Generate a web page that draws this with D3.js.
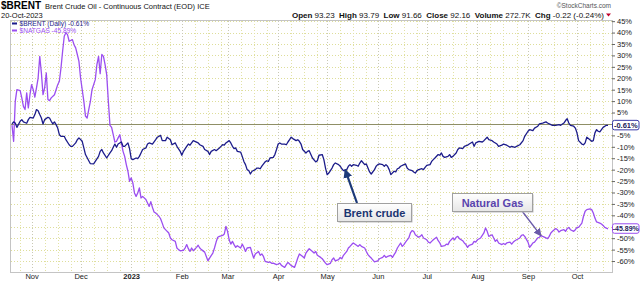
<!DOCTYPE html>
<html><head><meta charset="utf-8">
<script src="https://cdn.jsdelivr.net/npm/d3@7"></script>
<style>
body{margin:0;background:#fff}
svg{display:block}
text{font-family:Arial,"Liberation Sans",sans-serif}
</style>
</head><body>
<svg id="chart" width="640" height="283"></svg>
<script>
// ---------------- DATA ----------------
const brentSeries = [["2022-10-20",0],["2022-10-21",0.9],["2022-10-22",0.4],["2022-10-23",-1.5],["2022-10-25",1.2],["2022-10-26",1.9],["2022-10-27",0.9],["2022-10-29",0.3],["2022-10-30",1.9],["2022-10-31",2.9],["2022-11-02",2.6],["2022-11-03",4.1],["2022-11-04",6.3],["2022-11-05",5.8],["2022-11-06",4.1],["2022-11-07",2.6],["2022-11-08",0],["2022-11-09",1.9],["2022-11-11",2.9],["2022-11-12",2.6],["2022-11-13",1.2],["2022-11-14",0],["2022-11-15",0.9],["2022-11-16",-0.3],["2022-11-17",-1.8],["2022-11-18",-4.7],["2022-11-19",-5.4],["2022-11-21",-5.4],["2022-11-22",-6.9],["2022-11-24",-9.1],["2022-11-25",-9.8],["2022-11-26",-9.8],["2022-11-28",-8.3],["2022-11-29",-6.9],["2022-11-30",-6.1],["2022-12-02",-7.6],["2022-12-03",-10.5],["2022-12-04",-13.4],["2022-12-06",-16.1],["2022-12-07",-17.4],["2022-12-09",-17.5],["2022-12-10",-16.4],["2022-12-12",-14.2],["2022-12-13",-12.0],["2022-12-14",-11.2],["2022-12-15",-12.7],["2022-12-17",-14.9],["2022-12-18",-13.7],["2022-12-19",-12.7],["2022-12-20",-11.7],["2022-12-21",-10.2],["2022-12-22",-8.8],["2022-12-23",-10.2],["2022-12-24",-8.8],["2022-12-26",-7.9],["2022-12-27",-9.8],["2022-12-28",-9.8],["2022-12-30",-8.3],["2022-12-31",-10.8],["2023-01-01",-15.2],["2023-01-02",-15.6],["2023-01-04",-14.9],["2023-01-05",-15.2],["2023-01-06",-14.2],["2023-01-07",-12.7],["2023-01-08",-11.2],["2023-01-10",-10.5],["2023-01-11",-8.8],["2023-01-12",-8.3],["2023-01-14",-8.8],["2023-01-16",-6.9],["2023-01-17",-5.8],["2023-01-19",-5.0],["2023-01-20",-7.3],["2023-01-22",-7.3],["2023-01-23",-5.8],["2023-01-25",-6.9],["2023-01-26",-9.1],["2023-01-28",-8.3],["2023-01-29",-9.8],["2023-01-31",-12.0],["2023-02-01",-13.7],["2023-02-02",-12.0],["2023-02-04",-9.8],["2023-02-05",-8.8],["2023-02-06",-9.3],["2023-02-08",-7.3],["2023-02-09",-7.6],["2023-02-11",-8.3],["2023-02-12",-9.1],["2023-02-14",-9.8],["2023-02-15",-11.2],["2023-02-17",-12.0],["2023-02-18",-13.4],["2023-02-19",-12.0],["2023-02-21",-11.2],["2023-02-22",-11.7],["2023-02-24",-10.5],["2023-02-25",-9.8],["2023-02-26",-9.1],["2023-02-27",-9.3],["2023-02-28",-8.3],["2023-03-02",-7.3],["2023-03-03",-8.3],["2023-03-04",-9.8],["2023-03-05",-10.8],["2023-03-06",-10.5],["2023-03-07",-12.0],["2023-03-09",-12.3],["2023-03-10",-14.2],["2023-03-11",-16.4],["2023-03-12",-17.8],["2023-03-13",-20.0],["2023-03-14",-20.4],["2023-03-15",-21.9],["2023-03-16",-20.7],["2023-03-18",-20.0],["2023-03-19",-19.3],["2023-03-20",-19.3],["2023-03-21",-19.6],["2023-03-22",-18.5],["2023-03-24",-16.6],["2023-03-25",-16.1],["2023-03-26",-16.4],["2023-03-27",-14.9],["2023-03-29",-14.6],["2023-03-30",-13.4],["2023-03-31",-11.2],["2023-04-01",-8.8],["2023-04-02",-8.3],["2023-04-03",-8.8],["2023-04-05",-8.8],["2023-04-06",-9.1],["2023-04-07",-7.9],["2023-04-08",-6.9],["2023-04-09",-5.8],["2023-04-10",-6.4],["2023-04-12",-7.3],["2023-04-13",-6.9],["2023-04-14",-7.6],["2023-04-15",-8.8],["2023-04-16",-11.2],["2023-04-18",-12.7],["2023-04-19",-12.0],["2023-04-20",-11.7],["2023-04-22",-14.9],["2023-04-24",-16.6],["2023-04-25",-16.1],["2023-04-26",-13.7],["2023-04-28",-13.4],["2023-04-29",-15.6],["2023-04-30",-19.3],["2023-05-01",-22.2],["2023-05-02",-21.5],["2023-05-04",-19.3],["2023-05-05",-17.8],["2023-05-06",-17.1],["2023-05-08",-17.8],["2023-05-09",-18.5],["2023-05-10",-19.6],["2023-05-11",-20.4],["2023-05-13",-20.0],["2023-05-14",-18.5],["2023-05-15",-17.8],["2023-05-16",-18.5],["2023-05-17",-17.8],["2023-05-19",-18.1],["2023-05-20",-18.5],["2023-05-21",-17.1],["2023-05-22",-16.1],["2023-05-24",-17.8],["2023-05-25",-17.5],["2023-05-26",-19.3],["2023-05-27",-21.0],["2023-05-28",-21.9],["2023-05-30",-20.0],["2023-05-31",-18.5],["2023-06-01",-17.8],["2023-06-02",-17.5],["2023-06-04",-17.8],["2023-06-05",-18.5],["2023-06-06",-17.8],["2023-06-07",-18.5],["2023-06-08",-20.0],["2023-06-09",-22.2],["2023-06-11",-20.7],["2023-06-12",-21.0],["2023-06-13",-19.6],["2023-06-14",-19.3],["2023-06-15",-18.5],["2023-06-17",-17.8],["2023-06-18",-17.5],["2023-06-19",-19.3],["2023-06-20",-20.0],["2023-06-22",-20.4],["2023-06-23",-21.0],["2023-06-24",-21.5],["2023-06-25",-20.4],["2023-06-26",-20.0],["2023-06-28",-19.6],["2023-06-29",-20.0],["2023-06-30",-19.0],["2023-07-01",-18.1],["2023-07-03",-17.8],["2023-07-04",-16.4],["2023-07-05",-15.6],["2023-07-06",-14.9],["2023-07-08",-13.4],["2023-07-09",-13.7],["2023-07-10",-12.7],["2023-07-11",-14.2],["2023-07-12",-14.6],["2023-07-14",-14.2],["2023-07-15",-13.4],["2023-07-16",-14.6],["2023-07-17",-14.2],["2023-07-19",-12.7],["2023-07-20",-11.2],["2023-07-21",-10.5],["2023-07-23",-10.8],["2023-07-24",-9.8],["2023-07-26",-9.3],["2023-07-27",-8.8],["2023-07-29",-7.9],["2023-07-30",-9.8],["2023-07-31",-8.3],["2023-08-02",-7.6],["2023-08-04",-7.9],["2023-08-05",-7.3],["2023-08-07",-5.8],["2023-08-08",-6.9],["2023-08-10",-7.3],["2023-08-11",-7.9],["2023-08-13",-8.8],["2023-08-14",-9.8],["2023-08-16",-9.3],["2023-08-17",-8.8],["2023-08-19",-9.3],["2023-08-21",-10.2],["2023-08-22",-9.8],["2023-08-24",-10.2],["2023-08-25",-9.8],["2023-08-27",-9.1],["2023-08-29",-7.3],["2023-08-30",-5.4],["2023-09-01",-3.2],["2023-09-02",-2.5],["2023-09-04",-2.9],["2023-09-05",-1.8],["2023-09-07",-1.0],["2023-09-08",0],["2023-09-10",0.4],["2023-09-12",0.9],["2023-09-13",0.4],["2023-09-15",-0.3],["2023-09-16",-0.6],["2023-09-18",-0.6],["2023-09-20",-0.3],["2023-09-21",-0.6],["2023-09-23",0.4],["2023-09-24",1.5],["2023-09-25",2.3],["2023-09-26",0.4],["2023-09-27",-0.6],["2023-09-29",-1.0],["2023-09-30",-1.8],["2023-10-01",-3.9],["2023-10-02",-7.3],["2023-10-04",-8.8],["2023-10-05",-9.1],["2023-10-06",-8.3],["2023-10-07",-5.8],["2023-10-08",-6.4],["2023-10-10",-7.6],["2023-10-11",-7.3],["2023-10-12",-3.9],["2023-10-13",-2.5],["2023-10-14",-3.2],["2023-10-15",-3.5],["2023-10-16",-2.5],["2023-10-17",-1.5],["2023-10-19",-0.6],["2023-10-20",-0.61]];

const natgasSeries = [["2022-10-20",-0.5],["2022-10-21",-7.6],["2022-10-22",9.9],["2022-10-23",15.0],["2022-10-25",14.6],["2022-10-26",11.4],["2022-10-27",7.7],["2022-10-28",6.3],["2022-10-29",13.6],["2022-10-30",7.0],["2022-10-31",12.8],["2022-11-01",17.2],["2022-11-02",15.0],["2022-11-03",11.7],["2022-11-04",15.8],["2022-11-05",20.1],["2022-11-06",29.6],["2022-11-07",22.3],["2022-11-08",12.8],["2022-11-09",15.8],["2022-11-10",22.3],["2022-11-11",10.7],["2022-11-12",10.2],["2022-11-13",11.4],["2022-11-15",12.8],["2022-11-16",15.0],["2022-11-17",17.2],["2022-11-18",18.7],["2022-11-19",24.5],["2022-11-20",31.8],["2022-11-21",38.4],["2022-11-22",39.9],["2022-11-23",39.1],["2022-11-24",36.2],["2022-11-26",36.9],["2022-11-27",34.7],["2022-11-28",33.3],["2022-11-29",30.4],["2022-11-30",27.4],["2022-12-01",20.1],["2022-12-03",9.9],["2022-12-04",3.4],["2022-12-05",2.6],["2022-12-06",6.3],["2022-12-07",9.9],["2022-12-08",15.0],["2022-12-10",19.4],["2022-12-11",26.0],["2022-12-12",29.6],["2022-12-13",22.0],["2022-12-14",30.4],["2022-12-15",29.6],["2022-12-16",26.0],["2022-12-17",21.6],["2022-12-18",9.9],["2022-12-19",-0.6],["2022-12-20",-1.5],["2022-12-21",-4.7],["2022-12-22",-7.9],["2022-12-23",-7.6],["2022-12-24",-6.1],["2022-12-25",-4.7],["2022-12-26",-8.3],["2022-12-27",-12.0],["2022-12-28",-14.2],["2022-12-29",-17.8],["2022-12-30",-20.7],["2022-12-31",-25.1],["2023-01-01",-23.6],["2023-01-02",-25.8],["2023-01-03",-30.2],["2023-01-04",-31.7],["2023-01-05",-30.2],["2023-01-06",-28.0],["2023-01-07",-32.4],["2023-01-08",-31.7],["2023-01-10",-33.1],["2023-01-12",-36.1],["2023-01-13",-34.0],["2023-01-14",-36.5],["2023-01-15",-38.5],["2023-01-16",-39.0],["2023-01-17",-39.7],["2023-01-18",-40.4],["2023-01-19",-41.5],["2023-01-20",-43.4],["2023-01-21",-45.5],["2023-01-23",-47.0],["2023-01-24",-47.7],["2023-01-25",-49.9],["2023-01-26",-50.7],["2023-01-28",-51.4],["2023-01-29",-54.3],["2023-01-30",-55.0],["2023-01-31",-55.5],["2023-02-02",-55.3],["2023-02-03",-54.3],["2023-02-04",-52.8],["2023-02-05",-54.6],["2023-02-06",-55.8],["2023-02-07",-54.3],["2023-02-08",-55.5],["2023-02-10",-54.0],["2023-02-11",-53.1],["2023-02-12",-54.3],["2023-02-13",-55.0],["2023-02-15",-56.1],["2023-02-16",-58.0],["2023-02-17",-59.9],["2023-02-18",-58.7],["2023-02-20",-56.5],["2023-02-21",-54.3],["2023-02-22",-51.7],["2023-02-23",-49.6],["2023-02-24",-49.2],["2023-02-26",-48.8],["2023-02-27",-48.2],["2023-02-28",-44.8],["2023-03-01",-47.0],["2023-03-02",-50.7],["2023-03-03",-52.6],["2023-03-04",-51.4],["2023-03-05",-52.8],["2023-03-06",-54.0],["2023-03-07",-53.3],["2023-03-09",-54.3],["2023-03-10",-52.6],["2023-03-11",-54.0],["2023-03-12",-55.8],["2023-03-13",-54.3],["2023-03-15",-54.0],["2023-03-16",-56.5],["2023-03-17",-58.7],["2023-03-18",-56.9],["2023-03-20",-55.8],["2023-03-21",-57.5],["2023-03-22",-56.9],["2023-03-23",-58.0],["2023-03-24",-60.1],["2023-03-26",-60.6],["2023-03-27",-60.4],["2023-03-28",-61.0],["2023-03-29",-60.9],["2023-03-31",-61.6],["2023-04-01",-61.3],["2023-04-02",-60.9],["2023-04-03",-61.9],["2023-04-05",-62.8],["2023-04-06",-61.6],["2023-04-07",-60.6],["2023-04-08",-61.3],["2023-04-09",-62.0],["2023-04-11",-62.8],["2023-04-12",-60.9],["2023-04-13",-58.7],["2023-04-14",-56.9],["2023-04-16",-58.0],["2023-04-17",-58.7],["2023-04-18",-56.5],["2023-04-19",-55.5],["2023-04-20",-54.6],["2023-04-22",-55.8],["2023-04-23",-56.5],["2023-04-24",-55.8],["2023-04-25",-57.5],["2023-04-27",-58.4],["2023-04-28",-59.0],["2023-04-29",-59.9],["2023-04-30",-60.9],["2023-05-01",-61.6],["2023-05-03",-61.0],["2023-05-04",-59.4],["2023-05-05",-58.7],["2023-05-06",-59.9],["2023-05-08",-59.4],["2023-05-09",-58.4],["2023-05-10",-59.0],["2023-05-11",-57.5],["2023-05-13",-55.8],["2023-05-14",-54.3],["2023-05-15",-53.6],["2023-05-16",-52.8],["2023-05-17",-52.1],["2023-05-19",-53.1],["2023-05-20",-53.6],["2023-05-21",-52.8],["2023-05-22",-53.6],["2023-05-24",-54.3],["2023-05-25",-55.8],["2023-05-26",-57.2],["2023-05-27",-58.0],["2023-05-28",-58.7],["2023-05-30",-60.4],["2023-05-31",-60.1],["2023-06-01",-59.9],["2023-06-02",-59.0],["2023-06-04",-58.4],["2023-06-05",-57.5],["2023-06-06",-58.4],["2023-06-07",-58.0],["2023-06-09",-57.5],["2023-06-10",-58.4],["2023-06-11",-57.2],["2023-06-12",-56.1],["2023-06-13",-54.3],["2023-06-15",-52.1],["2023-06-16",-53.6],["2023-06-17",-52.8],["2023-06-18",-51.7],["2023-06-20",-49.9],["2023-06-21",-47.7],["2023-06-22",-46.7],["2023-06-23",-47.0],["2023-06-24",-48.5],["2023-06-26",-49.6],["2023-06-27",-49.2],["2023-06-28",-48.5],["2023-06-29",-49.9],["2023-07-01",-50.7],["2023-07-02",-51.7],["2023-07-03",-52.1],["2023-07-04",-51.4],["2023-07-05",-50.7],["2023-07-07",-49.6],["2023-07-08",-51.1],["2023-07-09",-52.1],["2023-07-10",-53.6],["2023-07-12",-53.3],["2023-07-13",-52.6],["2023-07-14",-52.8],["2023-07-15",-51.4],["2023-07-17",-49.9],["2023-07-18",-50.7],["2023-07-19",-49.6],["2023-07-20",-49.2],["2023-07-21",-50.2],["2023-07-23",-51.1],["2023-07-24",-52.1],["2023-07-25",-52.8],["2023-07-26",-54.0],["2023-07-27",-53.1],["2023-07-29",-52.6],["2023-07-30",-51.4],["2023-07-31",-51.7],["2023-08-01",-50.7],["2023-08-03",-49.9],["2023-08-04",-48.8],["2023-08-05",-47.7],["2023-08-06",-45.5],["2023-08-07",-47.0],["2023-08-08",-49.2],["2023-08-10",-48.5],["2023-08-11",-49.9],["2023-08-12",-51.4],["2023-08-13",-50.7],["2023-08-14",-52.1],["2023-08-16",-52.8],["2023-08-17",-52.3],["2023-08-18",-52.8],["2023-08-19",-52.1],["2023-08-21",-51.7],["2023-08-22",-52.6],["2023-08-23",-51.7],["2023-08-24",-51.1],["2023-08-25",-50.7],["2023-08-27",-49.9],["2023-08-28",-48.8],["2023-08-29",-48.5],["2023-08-30",-49.2],["2023-09-01",-51.7],["2023-09-02",-54.0],["2023-09-03",-53.1],["2023-09-04",-52.1],["2023-09-05",-51.7],["2023-09-07",-49.9],["2023-09-08",-49.6],["2023-09-09",-48.8],["2023-09-10",-49.2],["2023-09-12",-49.9],["2023-09-13",-50.2],["2023-09-14",-49.2],["2023-09-15",-47.7],["2023-09-16",-47.0],["2023-09-18",-45.8],["2023-09-19",-46.3],["2023-09-20",-47.3],["2023-09-21",-46.7],["2023-09-23",-46.3],["2023-09-24",-47.0],["2023-09-25",-45.8],["2023-09-26",-45.3],["2023-09-27",-46.3],["2023-09-29",-47.0],["2023-09-30",-46.3],["2023-10-01",-45.3],["2023-10-02",-45.3],["2023-10-04",-43.4],["2023-10-05",-40.4],["2023-10-06",-38.2],["2023-10-07",-37.5],["2023-10-09",-37.2],["2023-10-10",-37.5],["2023-10-11",-39.0],["2023-10-12",-41.2],["2023-10-13",-42.9],["2023-10-15",-43.4],["2023-10-16",-43.8],["2023-10-17",-44.4],["2023-10-18",-45.3],["2023-10-20",-45.89]];

const yTickValues = [45,40,35,30,25,20,15,10,5,0,-5,-10,-15,-20,-25,-30,-35,-40,-45,-50,-55,-60];
const yLabelValues = [45,40,35,30,25,20,15,10,5,-5,-10,-15,-20,-25,-30,-35,-40,-50,-55,-60];
const monthTickDates = ["2022-11-01","2022-12-01","2023-01-01","2023-02-01","2023-03-01","2023-04-01","2023-05-01","2023-06-01","2023-07-01","2023-08-01","2023-09-01","2023-10-01"];
const monthTickLabels = ["Nov","Dec","2023","Feb","Mar","Apr","May","Jun","Jul","Aug","Sep","Oct"];
const quoteLabels = ["Open","High","Low","Close","Volume","Chg"];
const quoteValues = ["93.23","93.79","91.66","92.16","272.7K","-0.22 (-0.24%)"];
const lastValues = {brent:-0.61, natgas:-45.89};
const annotations = [
  {text:"Brent crude", date:"2023-05-12", value:-20},
  {text:"Natural Gas", date:"2023-09-09", value:-49}
];

// ---------------- CHART ----------------
(function(){
const svg = d3.select("#chart");
const parse = d3.timeParse("%Y-%m-%d");
const brentColor = "#1c1c8a", gasColor = "#9b4ef0";
const pL = 10, pR = 612, pT = 20, pB = 272;

const x = d3.scaleTime().domain([parse("2022-10-20"), parse("2023-10-20")]).range([12, 608]);
const y = d3.scaleLinear().domain([-64.8, 45.5]).range([pB, pT]);

svg.append("rect").attr("x",pL+0.5).attr("y",pT+0.5).attr("width",pR-pL).attr("height",pB-pT)
  .attr("fill","#fff").attr("stroke","#c4c4c4");

const grid = svg.append("g");
grid.selectAll("line.h").data(yTickValues.filter(v=>v!==0)).join("line")
  .attr("x1",pL+1).attr("x2",pR)
  .attr("y1",d=>Math.round(y(d))+0.5).attr("y2",d=>Math.round(y(d))+0.5)
  .attr("stroke","#dede9a").attr("stroke-dasharray","1,2");
const minorDates = [];
d3.timeMonth.range(parse("2022-10-01"), parse("2023-11-01")).forEach(m=>{
  [9,17,25].forEach(dd=>{ const dt=new Date(m.getFullYear(), m.getMonth(), dd); if(dt>parse("2022-10-21") && dt<parse("2023-10-19")) minorDates.push(dt); });
});
grid.selectAll("line.vm").data(minorDates).join("line")
  .attr("x1",d=>Math.round(x(d))+0.5).attr("x2",d=>Math.round(x(d))+0.5)
  .attr("y1",pT+1).attr("y2",pB)
  .attr("stroke","#e2e2a6").attr("stroke-dasharray","1,2");
grid.selectAll("line.v").data(monthTickDates.map(parse)).join("line")
  .attr("x1",d=>Math.round(x(d))+0.5).attr("x2",d=>Math.round(x(d))+0.5)
  .attr("y1",pT+1).attr("y2",pB)
  .attr("stroke","#c8c8b4").attr("stroke-dasharray","1,2");

svg.append("line").attr("x1",pL+1).attr("x2",pR).attr("y1",Math.round(y(0))+0.5).attr("y2",Math.round(y(0))+0.5)
  .attr("stroke","#8f8f66").attr("stroke-width",1);

const xAxis = d3.axisBottom(x).tickValues(monthTickDates.map(parse))
  .tickFormat((d,i)=>monthTickLabels[i]).tickSize(0).tickPadding(2);
const gx = svg.append("g").attr("transform",`translate(0,${pB})`).call(xAxis);
gx.select(".domain").remove();
gx.selectAll("text").attr("font-size","7.5px").attr("fill","#222")
  .attr("font-weight",(d,i)=>monthTickLabels[i]==="2023"?"bold":"normal");

const yAxis = d3.axisRight(y).tickValues(yLabelValues).tickFormat(d=>d+"%").tickSize(3).tickPadding(2);
const gy = svg.append("g").attr("transform",`translate(${pR},0)`).call(yAxis);
gy.select(".domain").remove();
gy.selectAll("line").attr("stroke","#666");
gy.selectAll("text").attr("font-size","7.5px").attr("fill","#222");

const line = d3.line().x(d=>x(parse(d[0]))).y(d=>y(d[1]));
svg.append("path").datum(natgasSeries).attr("d",line).attr("fill","none")
  .attr("stroke",gasColor).attr("stroke-width",1.3).attr("stroke-linejoin","round");
svg.append("path").datum(brentSeries).attr("d",line).attr("fill","none")
  .attr("stroke",brentColor).attr("stroke-width",1.3).attr("stroke-linejoin","round");

function valueBox(v, color, fs){
  const cy = y(v);
  svg.append("rect").attr("x",612.5).attr("y",cy-5).attr("width",26.5).attr("height",9.5).attr("rx",2)
    .attr("fill","#fff").attr("stroke",color).attr("stroke-width",1);
  svg.append("text").attr("x",625.8).attr("y",cy+2.6).attr("text-anchor","middle")
    .attr("font-size",fs).attr("font-weight","bold").attr("fill","#1c1c5a").text(v.toFixed(2)+"%");
}
valueBox(lastValues.brent, "#3a3aa8", "7.5px");
valueBox(lastValues.natgas, gasColor, "7px");

svg.append("text").attr("x",1).attr("y",9).attr("font-size","10px").attr("font-weight","bold").attr("fill","#000").text("$BRENT");
svg.append("text").attr("x",45).attr("y",9).attr("font-size","7.5px").attr("fill","#111").text("Brent Crude Oil - Continuous Contract (EOD) ICE");
svg.append("text").attr("x",1).attr("y",17.5).attr("font-size","7.5px").attr("fill","#111").text("20-Oct-2023");
svg.append("text").attr("x",611).attr("y",7.5).attr("text-anchor","end").attr("font-size","6.5px").attr("fill","#555").text("©StockCharts.com");
const q = svg.append("text").attr("x",604).attr("y",17.5).attr("text-anchor","end").attr("font-size","8px").attr("fill","#111").attr("xml:space","preserve");
quoteLabels.forEach((l,i)=>{
  q.append("tspan").attr("font-weight","bold").text((i?"  ":"")+l+" ");
  q.append("tspan").text(quoteValues[i]);
});
svg.append("path").attr("d","M606,13.5 L611,13.5 L608.5,16.5 Z").attr("fill","#c0002a");

const legend = [["$BRENT (Daily) "+lastValues.brent.toFixed(2)+"%", brentColor],["$NATGAS "+lastValues.natgas.toFixed(2)+"%", gasColor]];
legend.forEach((l,i)=>{
  const ly = 23.5 + i*7;
  svg.append("line").attr("x1",12).attr("x2",17).attr("y1",ly).attr("y2",ly).attr("stroke",l[1]).attr("stroke-width",2);
  svg.append("text").attr("x",19.5).attr("y",ly+2.3).attr("font-size","6.6px").attr("fill",l[1]).text(l[0]);
});

const defs = svg.append("defs");
function marker(id, color, size){
  defs.append("marker").attr("id",id).attr("viewBox","0 0 10 10").attr("refX",9).attr("refY",5)
    .attr("markerWidth",size).attr("markerHeight",size).attr("markerUnits","userSpaceOnUse").attr("orient","auto")
    .append("path").attr("d","M0,0 L10,5 L0,10 Z").attr("fill",color);
}
marker("arrB","#1c3a78",9);
marker("arrG","#6a5aa8",8);
const grad = defs.append("linearGradient").attr("id","boxg").attr("x1",0).attr("x2",0).attr("y1",0).attr("y2",1);
grad.append("stop").attr("offset","0").attr("stop-color","#ffffff");
grad.append("stop").attr("offset","1").attr("stop-color","#e6e6e6");

const annBoxes = [
  {x:337, y:203, w:74, h:18, color:"#1a3470", arrow:"#1c3a78", marker:"arrB", sw:2.2, from:[357,203]},
  {x:452, y:193, w:80, h:18, color:"#5a44ad", arrow:"#6a5aa8", marker:"arrG", sw:1.4, from:[522,211]}
];
annotations.forEach((a,i)=>{
  const b = annBoxes[i];
  svg.append("line").attr("x1",b.from[0]).attr("y1",b.from[1])
    .attr("x2",x(parse(a.date))).attr("y2",y(a.value))
    .attr("stroke",b.arrow).attr("stroke-width",b.sw).attr("marker-end",`url(#${b.marker})`);
  svg.append("rect").attr("x",b.x+1.5).attr("y",b.y+1.5).attr("width",b.w).attr("height",b.h).attr("fill","#bdbdbd");
  svg.append("rect").attr("x",b.x+0.5).attr("y",b.y+0.5).attr("width",b.w).attr("height",b.h)
    .attr("fill","url(#boxg)").attr("stroke","#a0a0a0");
  svg.append("text").attr("x",b.x+b.w/2+0.5).attr("y",b.y+13.5).attr("text-anchor","middle")
    .attr("font-size","11px").attr("font-weight","bold").attr("fill",b.color).text(a.text);
});
})();
</script>
</body></html>
